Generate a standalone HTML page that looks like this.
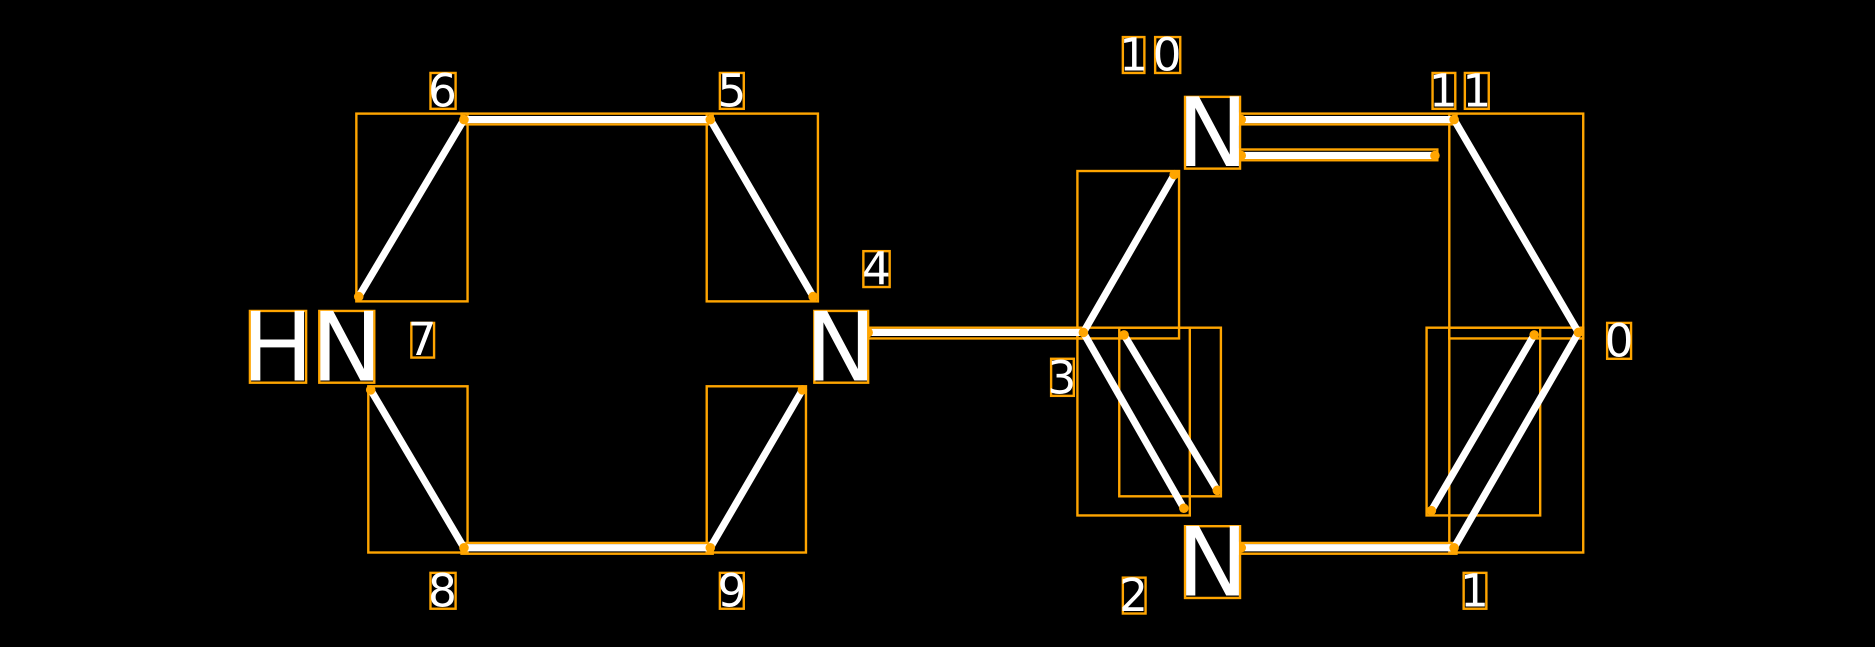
<!DOCTYPE html>
<html><head><meta charset="utf-8"><style>html,body{margin:0;padding:0;background:#000;width:1875px;height:647px;overflow:hidden}</style></head>
<body>
<svg width="1875" height="647" viewBox="0 0 1568 541" preserveAspectRatio="none" xmlns="http://www.w3.org/2000/svg" font-family="DejaVu Sans, Liberation Sans, sans-serif" style="display:block">
<rect width="1568" height="541" fill="#000"/>
<g fill="none" stroke="#FFA500" stroke-width="2">
<rect x="386" y="95" width="210" height="9"/>
<rect x="298" y="95" width="93" height="157"/>
<rect x="591" y="95" width="93" height="157"/>
<rect x="724" y="274" width="184" height="9"/>
<rect x="591" y="323" width="83" height="139"/>
<rect x="308" y="323" width="83" height="139"/>
<rect x="386" y="454" width="210" height="9"/>
<rect x="901" y="143" width="85" height="140"/>
<rect x="1036" y="95" width="182" height="9"/>
<rect x="1036" y="125" width="166" height="9"/>
<rect x="1212" y="95" width="112" height="367"/>
<rect x="1193" y="274" width="95" height="157"/>
<rect x="1212" y="274" width="112" height="9"/>
<rect x="1036" y="454" width="182" height="9"/>
<rect x="901" y="274" width="94" height="157"/>
<rect x="936" y="274" width="85" height="141"/>
</g>
<g stroke="#fff" stroke-width="6" stroke-linecap="butt">
<line x1="388" y1="100" x2="594" y2="100"/>
<line x1="388" y1="100" x2="300" y2="248"/>
<line x1="594" y1="100" x2="680" y2="248"/>
<line x1="726" y1="278" x2="906" y2="278"/>
<line x1="671" y1="326" x2="594" y2="458"/>
<line x1="310" y1="326" x2="388" y2="458"/>
<line x1="388" y1="458" x2="594" y2="458"/>
<line x1="906" y1="278" x2="982" y2="146"/>
<line x1="1038" y1="100" x2="1216" y2="100"/>
<line x1="1038" y1="130" x2="1200" y2="130"/>
<line x1="1216" y1="100" x2="1320" y2="278"/>
<line x1="1320" y1="278" x2="1216" y2="458"/>
<line x1="1283" y1="280" x2="1197" y2="427"/>
<line x1="1038" y1="458" x2="1216" y2="458"/>
<line x1="906" y1="278" x2="990" y2="425"/>
<line x1="940" y1="280" x2="1018" y2="410"/>
</g>
<g fill="#FFA500">
<circle cx="388" cy="100" r="4"/><circle cx="594" cy="100" r="4"/><circle cx="300" cy="248" r="4"/><circle cx="680" cy="248" r="4"/>
<circle cx="726" cy="278" r="4"/><circle cx="906" cy="278" r="4"/><circle cx="671" cy="326" r="4"/><circle cx="594" cy="458" r="4"/>
<circle cx="310" cy="326" r="4"/><circle cx="388" cy="458" r="4"/><circle cx="982" cy="146" r="4"/><circle cx="1038" cy="100" r="4"/>
<circle cx="1216" cy="100" r="4"/><circle cx="1038" cy="130" r="4"/><circle cx="1200" cy="130" r="4"/><circle cx="1320" cy="278" r="4"/>
<circle cx="1283" cy="280" r="4"/><circle cx="1197" cy="427" r="4"/><circle cx="1216" cy="458" r="4"/><circle cx="1038" cy="458" r="4"/>
<circle cx="990" cy="425" r="4"/><circle cx="940" cy="280" r="4"/><circle cx="1018" cy="410" r="4"/>
</g>
<g fill="none" stroke="#FFA500" stroke-width="2">
<rect x="209" y="260" width="47" height="60"/><rect x="267" y="260" width="46" height="60"/>
<rect x="681" y="260" width="45" height="60"/><rect x="991" y="81" width="46" height="60"/><rect x="991" y="440" width="46" height="60"/>
<rect x="360" y="61" width="21" height="30"/><rect x="602" y="61" width="20" height="30"/>
<rect x="939" y="31" width="18" height="30"/><rect x="966" y="31" width="21" height="30"/>
<rect x="1198" y="61" width="19" height="30"/><rect x="1225" y="61" width="20" height="30"/>
<rect x="722" y="210" width="22" height="30"/><rect x="344" y="270" width="19" height="29"/>
<rect x="1344" y="270" width="20" height="30"/><rect x="879" y="300" width="19" height="31"/>
<rect x="360" y="479" width="21" height="30"/><rect x="602" y="479" width="20" height="30"/>
<rect x="939" y="483" width="19" height="30"/><rect x="1224" y="479" width="19" height="30"/>
</g>
<g fill="#fff" font-size="80" text-anchor="middle">
<text x="232" y="318">H</text><text x="290" y="318">N</text>
<text x="703" y="318">N</text><text x="1014" y="139">N</text><text x="1014" y="498">N</text>
</g>
<g fill="#fff" font-size="38" text-anchor="middle">
<text x="370" y="89">6</text><text x="612" y="89">5</text>
<text x="948" y="59">1</text><text x="976" y="59">0</text>
<text x="1207" y="89">1</text><text x="1235" y="89">1</text>
<text x="733" y="238">4</text><text x="353" y="297">7</text>
<text x="1354" y="298">0</text><text x="888" y="329">3</text>
<text x="370" y="507">8</text><text x="612" y="507">9</text>
<text x="948" y="511">2</text><text x="1233" y="507">1</text>
</g>
</svg>
</body></html>
